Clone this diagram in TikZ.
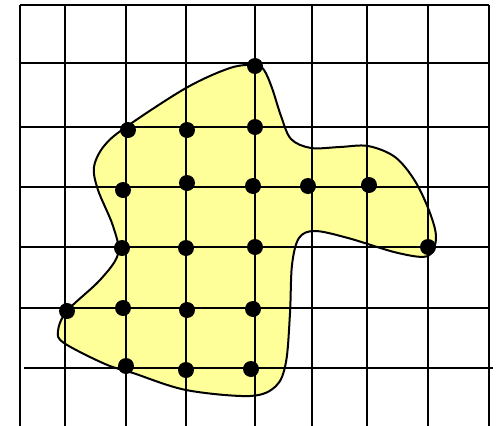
\documentclass[tikz,border=0pt]{standalone}
\begin{document}
\begin{tikzpicture}[x=1pt,y=-1pt,
  gridline/.style={line width=2.2pt},
  outline/.style={line width=2pt},
  dot/.style={circle,fill=black,inner sep=0pt,minimum size=16pt}]
\definecolor{blobyellow}{HTML}{FFFF99}
\useasboundingbox (0,0) rectangle (496,426);
% blob fill
\fill[blobyellow] plot[smooth cycle,tension=0.55] coordinates {
 (255,65) (264,70) (272,88) (281,116) (291,139) (311,148) (340,147) (368,146)
 (395,157) (415,181) (430,213) (436,238) (428,256) (398,253) (348,238) (315,231)
 (299,238) (292,265) (290,313) (286,362) (276,386) (250,396) (186,390) (133,373)
 (105,364) (64,343) (58,331) (67,311) (100,280) (118,254) (113,226) (98,190)
 (94,167) (104,146) (126,127) (186,88) (230,68)};
% grid
\foreach \x in {20,65,126,186,255,312,367,428,489}
  \draw[gridline] (\x,5) -- (\x,426);
\foreach \y in {5,63,127,187,247,308}
  \draw[gridline] (20,\y) -- (489,\y);
\draw[gridline] (24,368) -- (493,368);
% blob outline
\draw[outline] plot[smooth cycle,tension=0.55] coordinates {
 (255,65) (264,70) (272,88) (281,116) (291,139) (311,148) (340,147) (368,146)
 (395,157) (415,181) (430,213) (436,238) (428,256) (398,253) (348,238) (315,231)
 (299,238) (292,265) (290,313) (286,362) (276,386) (250,396) (186,390) (133,373)
 (105,364) (64,343) (58,331) (67,311) (100,280) (118,254) (113,226) (98,190)
 (94,167) (104,146) (126,127) (186,88) (230,68)};
% dots
\node[dot] (d1) at (255,66) {};
\node[dot] (d2) at (128,130) {};
\node[dot] (d3) at (187,130) {};
\node[dot] (d4) at (255,127) {};
\node[dot] (d5) at (123,190) {};
\node[dot] (d6) at (187,183) {};
\node[dot] (d7) at (253,186) {};
\node[dot] (d8) at (308,186) {};
\node[dot] (d9) at (369,185) {};
\node[dot] (d10) at (122,248) {};
\node[dot] (d11) at (186,248) {};
\node[dot] (d12) at (255,247) {};
\node[dot] (d13) at (428,247) {};
\node[dot] (d14) at (67,311) {};
\node[dot] (d15) at (123,308) {};
\node[dot] (d16) at (187,310) {};
\node[dot] (d17) at (253,309) {};
\node[dot] (d18) at (126,366) {};
\node[dot] (d19) at (186,370) {};
\node[dot] (d20) at (251,369) {};
\end{tikzpicture}
\end{document}
